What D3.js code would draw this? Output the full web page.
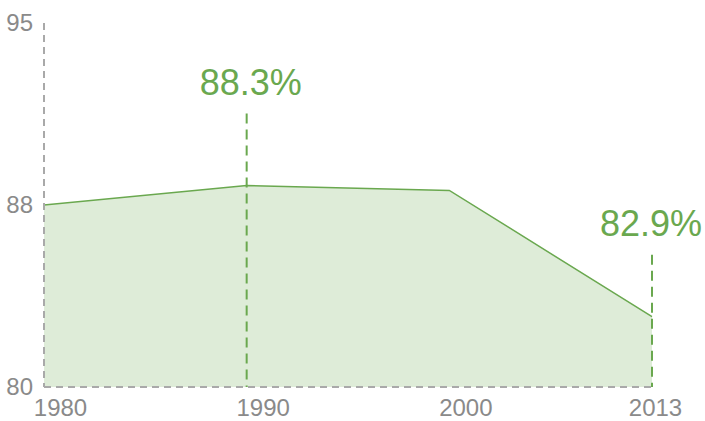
<!DOCTYPE html>
<html>
<head>
<meta charset="utf-8">
<script src="https://cdn.jsdelivr.net/npm/d3@7"></script>
<style>
  body { margin: 0; background: #fff; }
  svg { display: block; font-family: "Liberation Sans", Arial, sans-serif; }
</style>
</head>
<body>
<svg id="chart" width="705" height="421"></svg>
<script>
const years = [1980, 1990, 2000, 2013];
const values = [87.5, 88.3, 88.1, 82.9];
const yTicks = [80, 87.5, 95];
const yTickLabels = ['80', '88', '95'];
const calloutYears = [1990, 2013];

// how far the dashed callout lines rise above their point
const calloutRise = { 1990: 72, 2013: 62 };

const green = '#6aa84f';
const fill = '#deecd8';
const grey = '#a9a9a9';
const textGrey = '#8a8a8a';

const data = years.map((y, i) => ({ year: y, value: values[i] }));

const svg = d3.select('#chart');

const x = d3.scalePoint()
    .domain(years)
    .range([44, 652]);

const y = d3.scaleLinear()
    .domain([80, 95])
    .range([387, 23]);

// area + line
svg.append('path')
    .datum(data)
    .attr('fill', fill)
    .attr('d', d3.area()
        .x(d => x(d.year))
        .y0(y(80))
        .y1(d => y(d.value)));

svg.append('path')
    .datum(data)
    .attr('fill', 'none')
    .attr('stroke', green)
    .attr('stroke-width', 1.5)
    .attr('d', d3.line()
        .x(d => x(d.year))
        .y(d => y(d.value)));

// dashed frame
svg.append('line')
    .attr('x1', x(years[0])).attr('x2', x(years[0]))
    .attr('y1', y(95)).attr('y2', y(80))
    .attr('stroke', grey).attr('stroke-width', 2)
    .attr('stroke-dasharray', '7,5');

svg.append('line')
    .attr('x1', x(years[0])).attr('x2', x(years[years.length - 1]))
    .attr('y1', y(80)).attr('y2', y(80))
    .attr('stroke', grey).attr('stroke-width', 2)
    .attr('stroke-dasharray', '7,5');

// axes
const yAxis = svg.append('g')
    .attr('transform', `translate(${x(years[0])},0)`)
    .call(d3.axisLeft(y)
        .tickValues(yTicks)
        .tickFormat((d, i) => yTickLabels[i])
        .tickSize(0)
        .tickPadding(11));
yAxis.select('.domain').remove();
yAxis.selectAll('text')
    .attr('fill', textGrey)
    .style('font-size', '24px');

const xAxis = svg.append('g')
    .attr('transform', `translate(0,${y(80)})`)
    .call(d3.axisBottom(x)
        .tickSize(0)
        .tickPadding(12));
xAxis.select('.domain').remove();
xAxis.selectAll('text')
    .attr('fill', textGrey)
    .attr('dx', (d, i) => i === years.length - 1 ? 3 : 16)
    .style('font-size', '24px');

// callouts
const fmt = d3.format('.1f');
const callouts = data.filter(d => calloutYears.includes(d.year));

svg.selectAll('.callout-line')
    .data(callouts)
    .join('line')
    .attr('class', 'callout-line')
    .attr('x1', d => x(d.year)).attr('x2', d => x(d.year))
    .attr('y1', d => y(d.value) - calloutRise[d.year])
    .attr('y2', y(80))
    .attr('stroke', green).attr('stroke-width', 2)
    .attr('stroke-dasharray', '10,6');

svg.selectAll('.callout-label')
    .data(callouts)
    .join('text')
    .attr('class', 'callout-label')
    .attr('x', (d, i) => x(d.year) + (i === 0 ? 4 : -1))
    .attr('y', d => y(d.value) - calloutRise[d.year] - 19)
    .attr('text-anchor', 'middle')
    .attr('fill', green)
    .style('font-size', '36px')
    .text(d => fmt(d.value) + '%');
</script>
</body>
</html>
